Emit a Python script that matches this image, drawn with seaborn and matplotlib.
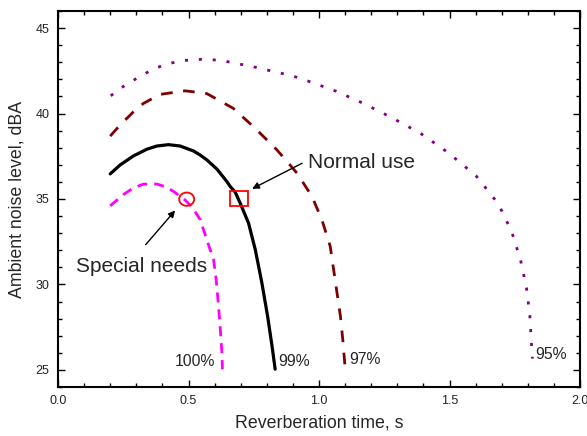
import matplotlib
matplotlib.use("Agg")
import matplotlib.pyplot as plt
from matplotlib.patches import Rectangle, Ellipse
from matplotlib.ticker import MultipleLocator
import seaborn as sns
import pandas as pd

# Reverberation time (s) vs. ambient noise level (dBA) contours
rt_100 = [0.20, 0.25, 0.289, 0.327, 0.38, 0.417, 0.443, 0.487, 0.515, 0.545, 0.570,
          0.596, 0.606, 0.615, 0.621, 0.628, 0.630]
nl_100 = [34.60, 35.25, 35.65, 35.87, 35.87, 35.69, 35.44, 34.94, 34.50, 33.79, 32.62,
          31.45, 30.29, 28.73, 27.57, 26.01, 25.04]

rt_99 = [0.20, 0.238, 0.289, 0.340, 0.379, 0.423, 0.468, 0.519, 0.545, 0.570, 0.609,
         0.647, 0.660, 0.679, 0.698, 0.730, 0.756, 0.781, 0.803, 0.820, 0.832]
nl_99 = [36.47, 36.99, 37.52, 37.91, 38.10, 38.18, 38.10, 37.81, 37.57, 37.29, 36.75,
         36.02, 35.73, 35.40, 34.76, 33.59, 32.03, 30.10, 28.15, 26.40, 25.04]

rt_97 = [0.20, 0.238, 0.289, 0.327, 0.391, 0.487, 0.570, 0.672, 0.756, 0.839, 0.916,
         0.973, 1.011, 1.043, 1.056, 1.069, 1.082, 1.091, 1.100]
nl_97 = [38.68, 39.33, 40.10, 40.59, 41.12, 41.33, 41.17, 40.30, 39.13, 37.87, 36.51,
         35.15, 33.79, 32.23, 30.87, 29.51, 28.15, 26.79, 25.14]

rt_95 = [0.202, 0.257, 0.311, 0.363, 0.417, 0.472, 0.525, 0.579, 0.634, 0.686, 0.740,
         0.794, 0.849, 0.903, 0.956, 1.065, 1.171, 1.280, 1.389, 1.495, 1.602, 1.687,
         1.738, 1.772, 1.795, 1.808, 1.814, 1.818]
nl_95 = [41.04, 41.66, 42.14, 42.59, 42.90, 43.08, 43.17, 43.17, 43.08, 42.92, 42.77,
         42.57, 42.38, 42.18, 41.91, 41.31, 40.59, 39.75, 38.84, 37.71, 36.35, 34.72,
         33.10, 31.45, 29.80, 28.15, 26.50, 25.66]

curve_labels = ["100%", "99%", "97%", "95%"]

sns.set_style("ticks")
plt.rcParams["font.family"] = ["Liberation Sans", "DejaVu Sans"]

fig = plt.figure(figsize=(5.87, 4.36), dpi=100)
ax = fig.add_axes([58 / 587, 1 - 387 / 436, 522 / 587, 376 / 436])

styles = [
    (rt_100, nl_100, "#FF00FF", 2.0, (0, (3.6, 2.5))),
    (rt_99, nl_99, "black", 2.3, "-"),
    (rt_97, nl_97, "#800000", 2.0, (0, (4.2, 3.8))),
    (rt_95, nl_95, "#800080", 2.0, (0, (1.1, 3.9))),
]
for x, y, color, lw, ls in styles:
    df = pd.DataFrame({"rt": x, "nl": y})
    sns.lineplot(data=df, x="rt", y="nl", sort=False, estimator=None, ax=ax,
                 color=color, linewidth=lw, linestyle=ls)

# End-of-curve labels
lab_kw = dict(fontsize=11.3, va="baseline")
ax.text(0.602, 25.23, curve_labels[0], ha="right", **lab_kw)
ax.text(0.845, 25.23, curve_labels[1], ha="left", **lab_kw)
ax.text(1.116, 25.33, curve_labels[2], ha="left", **lab_kw)
ax.text(1.830, 25.62, curve_labels[3], ha="left", **lab_kw)

# Design points
ax.add_patch(Rectangle((0.695 - 0.0345, 35.03 - 0.465), 0.069, 0.93, fill=False,
                       edgecolor="red", linewidth=1.3, zorder=5))
ax.add_patch(Ellipse((0.493, 34.99), 0.0575, 0.78, fill=False,
                     edgecolor="red", linewidth=1.3, zorder=5))

arrow_kw = dict(arrowstyle="-|>", color="black", lw=1.0,
                shrinkA=0, shrinkB=0, mutation_scale=10)
ax.annotate("", xy=(0.744, 35.60), xytext=(0.935, 37.09), arrowprops=arrow_kw)
ax.text(0.958, 36.80, "Normal use", fontsize=15, ha="left", va="baseline")
ax.annotate("", xy=(0.449, 34.33), xytext=(0.336, 32.33), arrowprops=arrow_kw)
ax.text(0.069, 30.71, "Special needs", fontsize=15, ha="left", va="baseline")

ax.set_xlim(0, 2.0)
ax.set_ylim(24, 46)
ax.xaxis.set_major_locator(MultipleLocator(0.5))
ax.xaxis.set_minor_locator(MultipleLocator(0.1))
ax.yaxis.set_major_locator(MultipleLocator(5))
ax.yaxis.set_minor_locator(MultipleLocator(1))
ax.tick_params(which="both", direction="in", top=True, right=True,
               labelsize=9, width=1.0, color="black", labelcolor="#222222")
ax.tick_params(axis="x", which="major", pad=5.5)
ax.tick_params(axis="y", which="major", pad=6)
ax.tick_params(which="major", length=5)
ax.tick_params(which="minor", length=3)
for s in ax.spines.values():
    s.set_visible(True)
    s.set_linewidth(1.5)
    s.set_color("black")

ax.set_xlabel("Reverberation time, s", fontsize=12.8, labelpad=6)
ax.set_ylabel("Ambient noise level, dBA", fontsize=12.8, labelpad=7)

fig.savefig("out.png", dpi=100)
